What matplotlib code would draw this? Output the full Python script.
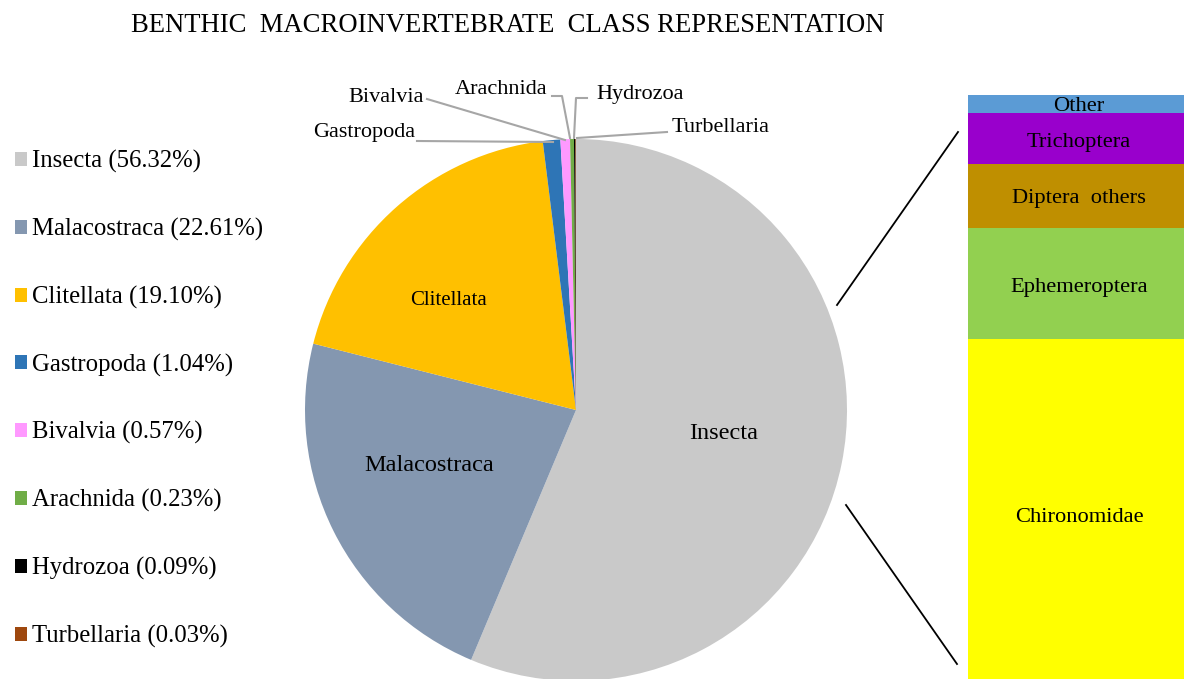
import numpy as np
import matplotlib
matplotlib.use("Agg")
import matplotlib.pyplot as plt
from matplotlib.patches import Patch

plt.rcParams['font.family'] = ['Liberation Serif', 'DejaVu Serif']

classes = ["Insecta", "Malacostraca", "Clitellata", "Gastropoda", "Bivalvia",
           "Arachnida", "Hydrozoa", "Turbellaria"]
shares = [56.32, 22.61, 19.10, 1.04, 0.57, 0.23, 0.09, 0.03]
class_colors = ["#C9C9C9", "#8497B0", "#FFC000", "#2E75B6", "#FF99FF",
                "#70AD47", "#000000", "#9E480E"]

insect_groups = ["Chironomidae", "Ephemeroptera", "Diptera  others", "Trichoptera", "Other"]
insect_shares = [58.2, 19.0, 11.0, 8.7, 3.1]
insect_colors = ["#FFFF00", "#92D050", "#BF8F00", "#9900CC", "#5B9BD5"]

W, H = 1184, 679
fig = plt.figure(figsize=(W / 100, H / 100), dpi=100)

# ---- pie ----
cx, cy, R = 576, 410, 271
ax = fig.add_axes([(cx - R) / W, (H - cy - R) / H, 2 * R / W, 2 * R / H])
wedges, _ = ax.pie(shares, colors=class_colors, startangle=90, counterclock=False,
                   radius=1, wedgeprops=dict(linewidth=0))
ax.set_xlim(-1, 1)
ax.set_ylim(-1, 1)
ax.set_aspect('equal')
ax.axis('off')

def px(x, y):
    return ((x - cx) / R, (cy - y) / R)

# inner labels
inner = {"Insecta": 0.55, "Malacostraca": 0.58, "Clitellata": 0.62}
inner_angle_shift = {"Insecta": 2.5, "Malacostraca": -6.0, "Clitellata": 8}
inner_fs = {"Insecta": 17.5, "Malacostraca": 17.5, "Clitellata": 15}
for w, name in zip(wedges, classes):
    if name in inner:
        th = np.deg2rad((w.theta1 + w.theta2) / 2 + inner_angle_shift[name])
        r = inner[name]
        ax.text(r * np.cos(th), r * np.sin(th), name, ha='center', va='center',
                fontsize=inner_fs[name])

# outer labels with leader lines
lc = "#A6A6A6"
outer = [
    ("Gastropoda", (415, 133), 'right', [(417, 141), (553, 142)]),
    ("Bivalvia", (424, 97), 'right', [(427, 99), (565, 140)]),
    ("Arachnida", (547, 89), 'right', [(552, 96), (562, 96), (570, 138)]),
    ("Hydrozoa", (596, 94), 'left', [(587, 98), (576, 98), (574, 138)]),
    ("Turbellaria", (672, 127), 'left', [(667, 132), (577, 138)]),
]
for name, (tx, ty), ha, pts in outer:
    x, y = px(tx, ty)
    ax.text(x, y, name, ha=ha, va='center', fontsize=16, clip_on=False)
    xs, ys = zip(*[px(a, b) for a, b in pts])
    ax.plot(xs, ys, color=lc, lw=1.5, clip_on=False)

# ---- stacked bar ----
bx0, btop = 968, 95
bw = W - bx0
bax = fig.add_axes([bx0 / W, 0, (bw + 30) / W, (H - btop) / H])
bottom = 0
label_shift = {"Chironomidae": -1.4, "Ephemeroptera": -0.6, "Diptera  others": -0.4,
               "Trichoptera": -0.6, "Other": -0.4}
for name, v, c in zip(insect_groups, insect_shares, insect_colors):
    bax.bar(0, v, bottom=bottom, width=1, color=c, linewidth=0, align='edge')
    bax.text((1079 - bx0) / bw, bottom + v / 2 + label_shift[name], name,
             ha='center', va='center', fontsize=16.2)
    bottom += v
bax.set_xlim(0, 1 + 30 / bw)
bax.set_ylim(0, bottom)
bax.axis('off')

# connector lines (figure pixel coords)
for (x1, y1), (x2, y2) in [((837, 305), (958, 132)), ((846, 505), (957, 664))]:
    fig.add_artist(plt.Line2D([x1 / W, x2 / W], [1 - y1 / H, 1 - y2 / H],
                              color='black', lw=1.3, transform=fig.transFigure))

# ---- legend ----
handles = [Patch(facecolor=c, edgecolor='none') for c in class_colors]
labels = [f"{n} ({s:.2f}%)" for n, s in zip(classes, shares)]
fig.legend(handles, labels, loc='upper left', bbox_to_anchor=(15 / W, 1 - 150 / H),
           frameon=False, fontsize=17.8, handlelength=0.5, handleheight=0.5,
           handletextpad=0.2, labelspacing=1.81, borderaxespad=0, borderpad=0)

# ---- title ----
fig.text(508 / W, 1 - 26 / H, "BENTHIC  MACROINVERTEBRATE  CLASS REPRESENTATION",
         ha='center', va='center', fontsize=19.2)

fig.savefig("out.png", dpi=100)
